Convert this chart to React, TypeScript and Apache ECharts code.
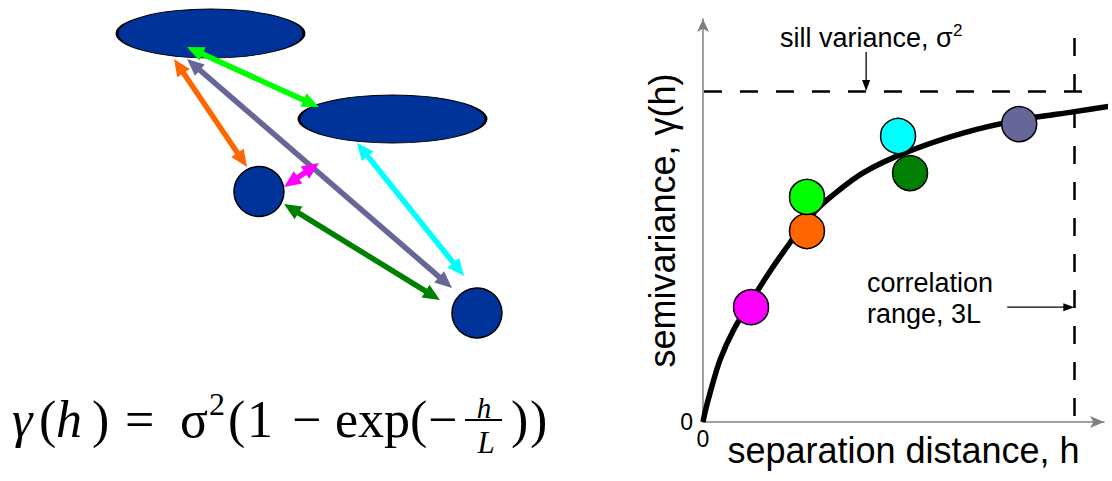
import React, { useEffect, useRef } from 'react';
import * as echarts from 'echarts';

// ---- Right chart: semivariogram (h in units of L, gamma in units of sill) ----
const lagDistance = [0, 0.02, 0.057, 0.137, 0.25, 0.388, 0.55, 0.7, 0.84, 1.0, 1.29, 1.65, 2.1, 2.55, 2.99, 3.31];
const semivariance = [0, 0.035, 0.088, 0.187, 0.28, 0.365, 0.46, 0.54, 0.61, 0.67, 0.752, 0.816, 0.873, 0.912, 0.937, 0.955];

const pairColors = ['#ff00ff', '#ff6600', '#00ff00', '#00ffff', '#008000', '#666699'];
const pairLag = [0.388, 0.84, 0.84, 1.576, 1.673, 2.555];
const pairGamma = [0.347, 0.577, 0.68, 0.864, 0.752, 0.9];

const sillValue = 1;
const rangeValue = 3; // 3L
const xMax = 3.24;
const yMax = 1.2175;

// annotation arrows on the chart: [x1, y1, x2, y2]
const sillArrow = [1.318, 1.118, 1.318, 1.0];
const rangeArrow = [2.458, 0.347, 3.0, 0.347];

// ---- Left diagram (diagram coordinates) ----
const blobX = [210.5, 392.5, 259, 477];
const blobY = [33.5, 119, 191.5, 313];
const blobW = [187, 187, 50, 50];
const blobH = [49, 48, 50, 50];

const linkFromX = [187, 174, 187, 284, 357, 284];
const linkFromY = [47, 59, 59, 187, 143, 204];
const linkToX = [319, 247, 452, 319, 464, 440];
const linkToY = [107, 167, 288, 163, 276, 300];
const linkColors = ['#00ff00', '#ff6600', '#666699', '#ff00ff', '#00ffff', '#008000'];

const SANS = '"Liberation Sans", Arial, Helvetica, sans-serif';
const SERIF = '"Liberation Serif", "Times New Roman", serif';

const arrowStyles = linkColors
  .map((c) => ({ color: c, width: 5.5, headLen: 17, headWidth: 15, both: true }))
  .concat([{ color: '#000000', width: 1.3, headLen: 11, headWidth: 8, both: false }]);

function renderArrow(params: any, api: any) {
  const a = api.coord([api.value(0), api.value(1)]);
  const b = api.coord([api.value(2), api.value(3)]);
  const st = arrowStyles[api.value(4)];
  const dx = b[0] - a[0];
  const dy = b[1] - a[1];
  const len = Math.hypot(dx, dy) || 1;
  const ux = dx / len;
  const uy = dy / len;
  const nx = -uy;
  const ny = ux;
  const hl = st.headLen;
  const hw = st.headWidth / 2;
  const back = hl * 0.8;
  const start = st.both ? [a[0] + ux * back, a[1] + uy * back] : a;
  const end = [b[0] - ux * back, b[1] - uy * back];
  const head = (tip: number[], ddx: number, ddy: number) => ({
    type: 'polygon',
    shape: {
      points: [
        [tip[0], tip[1]],
        [tip[0] - ddx * hl + nx * hw, tip[1] - ddy * hl + ny * hw],
        [tip[0] - ddx * hl - nx * hw, tip[1] - ddy * hl - ny * hw],
      ],
    },
    style: { fill: st.color },
  });
  const children: any[] = [
    {
      type: 'line',
      shape: { x1: start[0], y1: start[1], x2: end[0], y2: end[1] },
      style: { stroke: st.color, lineWidth: st.width },
    },
    head(b, ux, uy),
  ];
  if (st.both) children.push(head(a, -ux, -uy));
  return { type: 'group', children };
}

function ftext(text: string, x: number, y: number, size: number, italic = false, align = 'left', family = SERIF) {
  return {
    type: 'text',
    x,
    y,
    style: {
      text,
      fontSize: size,
      fontFamily: family,
      fontStyle: italic ? 'italic' : 'normal',
      fill: '#000',
      align,
      verticalAlign: 'middle',
      textAlign: align,
      textVerticalAlign: 'middle',
    },
  };
}

export default function App() {
  const ref = useRef<HTMLDivElement>(null);
  useEffect(() => {
    if (!ref.current) return;
    const chart = echarts.init(ref.current, undefined, { renderer: 'svg' });
    const ellipsePath = 'path://M0,50 A50,50 0 1,1 100,50 A50,50 0 1,1 0,50 Z';

    const yMain = 419.5;
    const fs = 52;
    const option: any = {
      animation: false,
      backgroundColor: '#ffffff',
      grid: [
        { left: 703, top: 19, right: 8, bottom: 59, outerBoundsMode: 'none', containLabel: false },
        { left: 0, top: 0, width: 600, height: 481, outerBoundsMode: 'none', containLabel: false },
      ],
      xAxis: [
        {
          type: 'value',
          gridIndex: 0,
          min: 0,
          max: xMax,
          interval: 1,
          name: 'separation distance, h',
          nameLocation: 'middle',
          nameGap: 10,
          nameMoveOverlap: false,
          nameTextStyle: { fontSize: 36, fontFamily: SANS, color: '#000', verticalAlign: 'top' },
          axisLine: { lineStyle: { color: '#808080', width: 1.5 }, symbol: ['none', 'arrow'], symbolSize: [9, 14] },
          axisTick: { show: false },
          splitLine: { show: false },
          axisLabel: {
            fontSize: 23,
            fontFamily: SANS,
            color: '#000',
            margin: 5,
            verticalAlign: 'top',
            formatter: (v: number) => (v === 0 ? '0' : ''),
          },
        },
        { type: 'value', gridIndex: 1, min: 0, max: 600, show: false },
      ],
      yAxis: [
        {
          type: 'value',
          gridIndex: 0,
          min: 0,
          max: yMax,
          interval: 1,
          name: 'semivariance, γ(h)',
          nameLocation: 'middle',
          nameRotate: 90,
          nameGap: 23,
          nameMoveOverlap: false,
          nameTextStyle: { fontSize: 36, fontFamily: SANS, color: '#000' },
          axisLine: { lineStyle: { color: '#808080', width: 1.5 }, symbol: ['none', 'arrow'], symbolSize: [9, 13] },
          axisTick: { show: false },
          splitLine: { show: false },
          axisLabel: {
            fontSize: 23,
            fontFamily: SANS,
            color: '#000',
            margin: 10,
            verticalAlign: 'middle',
            formatter: (v: number) => (v === 0 ? '0' : ''),
          },
        },
        { type: 'value', gridIndex: 1, min: 0, max: 481, inverse: true, show: false },
      ],
      series: [
        {
          type: 'line',
          xAxisIndex: 0,
          yAxisIndex: 0,
          data: lagDistance.map((h, i) => [h, semivariance[i]]),
          smooth: 0.3,
          symbol: 'none',
          clip: false,
          z: 3,
          lineStyle: { color: '#000', width: 5.5 },
          markLine: {
            silent: true,
            symbol: 'none',
            label: { show: false },
            lineStyle: { color: '#000', width: 2.5, type: [18, 18] },
            data: [
              [{ coord: [0.008, sillValue] }, { coord: [3.11, sillValue] }],
              [{ coord: [rangeValue, 1.16] }, { coord: [rangeValue, 0] }],
            ],
          },
        },
        {
          type: 'scatter',
          xAxisIndex: 0,
          yAxisIndex: 0,
          z: 4,
          symbolSize: 35,
          data: pairLag.map((h, i) => ({
            value: [h, pairGamma[i]],
            itemStyle: { color: pairColors[i], borderColor: '#000', borderWidth: 1.5, opacity: 1 },
          })),
        },
        {
          type: 'custom',
          xAxisIndex: 0,
          yAxisIndex: 0,
          z: 5,
          renderItem: renderArrow,
          data: [sillArrow.concat([6]), rangeArrow.concat([6])],
        },
        {
          type: 'scatter',
          xAxisIndex: 1,
          yAxisIndex: 1,
          z: 2,
          data: blobX.map((x, i) => ({
            value: [x, blobY[i]],
            symbol: blobW[i] === blobH[i] ? 'circle' : ellipsePath,
            symbolSize: [blobW[i], blobH[i]],
            itemStyle: { color: '#003399', borderColor: '#000', borderWidth: 1.5, opacity: 1 },
          })),
        },
        {
          type: 'custom',
          xAxisIndex: 1,
          yAxisIndex: 1,
          z: 6,
          renderItem: renderArrow,
          data: linkFromX.map((x, i) => [x, linkFromY[i], linkToX[i], linkToY[i], i]),
        },
      ],
      graphic: [
        ftext('γ', 12, yMain, fs, true),
        ftext('(', 39, yMain, fs),
        ftext('h', 56, yMain, fs, true),
        ftext(')', 92, yMain, fs),
        ftext('=', 125, yMain, fs),
        ftext('σ', 180, yMain, fs),
        ftext('2', 209, 404, 32),
        ftext('(', 228, yMain, fs),
        ftext('1', 247, yMain, fs),
        ftext('−', 292, yMain, fs),
        ftext('exp', 335, yMain, fs),
        ftext('(', 410, yMain, fs),
        ftext('−', 428, yMain, fs),
        ftext('h', 484, 408, 29, true, 'center'),
        {
          type: 'line',
          shape: { x1: 465, y1: 420, x2: 502, y2: 420 },
          style: { stroke: '#000', lineWidth: 2.2 },
        },
        ftext('L', 486, 442, 31, true, 'center'),
        ftext(')', 511, yMain, fs),
        ftext(')', 530, yMain, fs),
        ftext('sill variance, σ', 780, 38, 27, false, 'left', SANS),
        ftext('2', 953, 30, 17, false, 'left', SANS),
        {
          type: 'text',
          x: 867,
          y: 267,
          style: {
            text: 'correlation\nrange, 3L',
            fontSize: 27,
            lineHeight: 31,
            fontFamily: SANS,
            fill: '#000',
            align: 'left',
            verticalAlign: 'top',
            textAlign: 'left',
            textVerticalAlign: 'top',
          },
        },
      ],
    };
    chart.setOption(option);
    return () => chart.dispose();
  }, []);
  return (
    <div
      ref={ref}
      style={{ position: 'absolute', left: 0, top: 0, width: 1112, height: 481, background: '#fff' }}
    />
  );
}
